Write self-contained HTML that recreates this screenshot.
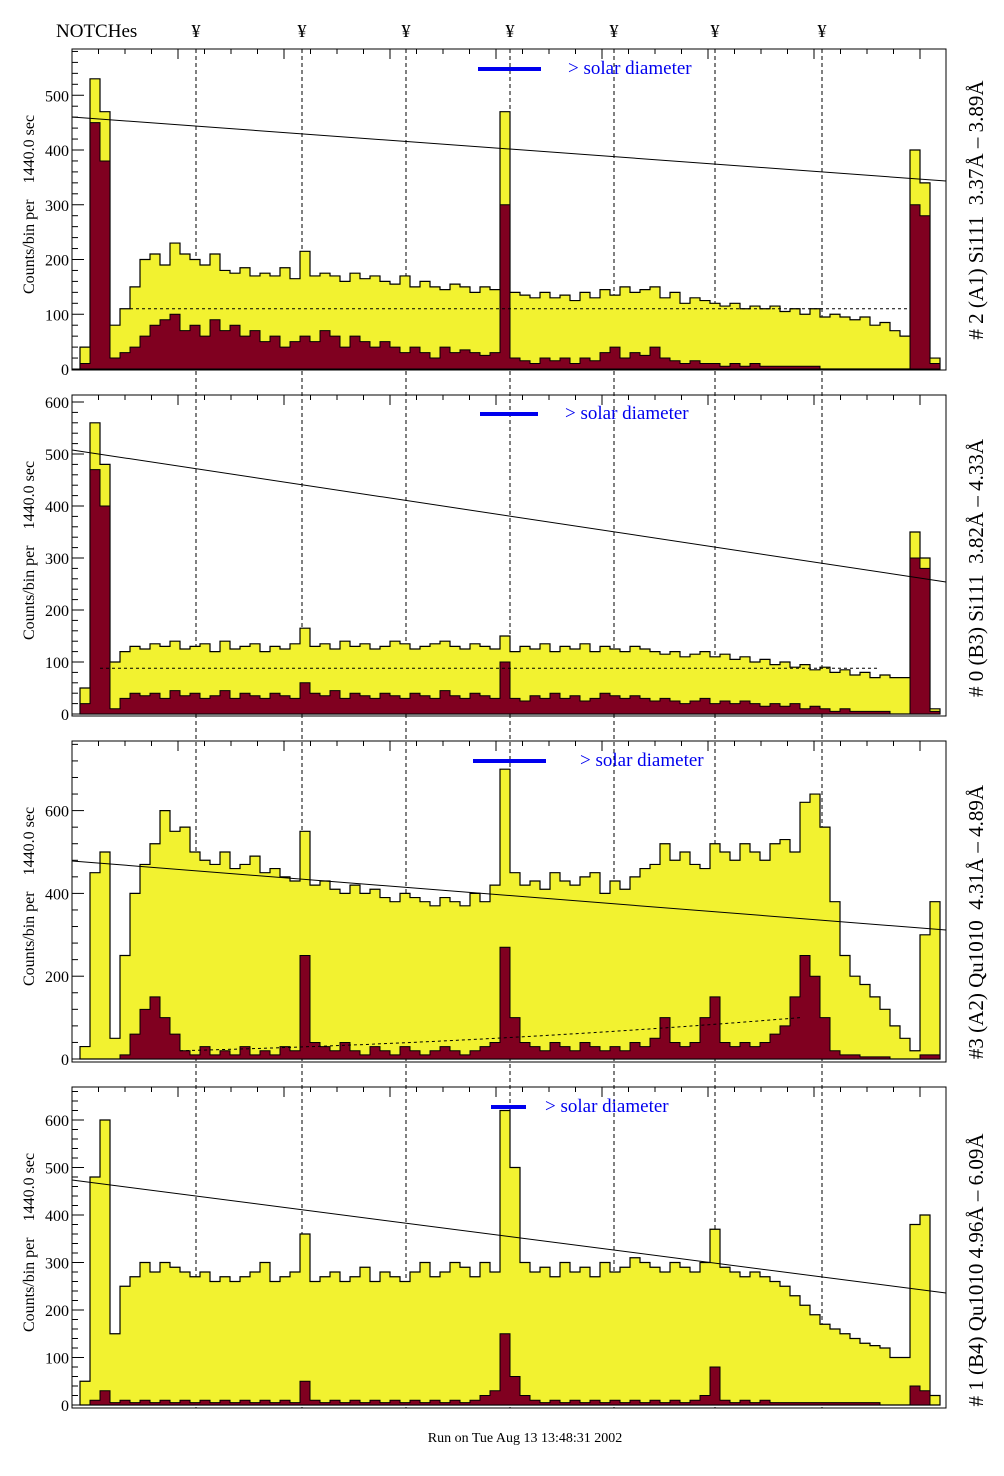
<!DOCTYPE html>
<html><head><meta charset="utf-8">
<style>
body{margin:0;background:#fff;}
svg{display:block;font-family:"Liberation Serif",serif;}
text{white-space:pre;}
</style></head>
<body>
<svg id="chart" width="1004" height="1476" viewBox="0 0 1004 1476" xmlns="http://www.w3.org/2000/svg"></svg>
<script>
const NS="http://www.w3.org/2000/svg";
// ---- data ----
const p1Yellow=[40,530,470,80,110,150,200,210,190,230,210,200,190,210,180,175,185,170,175,170,185,165,215,170,175,170,160,175,165,170,160,155,170,150,160,150,145,155,150,140,150,145,470,140,135,130,140,130,135,125,140,130,145,135,150,140,145,150,130,140,120,130,125,120,115,120,110,115,110,115,105,110,100,110,95,100,95,90,95,80,85,70,60,400,340,20];
const p1Red=[10,450,380,20,30,40,60,80,90,100,70,80,60,90,70,80,60,70,50,60,40,50,60,50,70,60,40,60,50,40,50,40,30,40,30,20,40,30,35,30,25,30,300,20,15,10,20,15,20,10,20,15,30,40,20,30,25,40,20,15,10,15,10,10,5,10,5,10,5,5,5,5,5,5,0,0,0,0,0,0,0,0,0,300,280,10];
const p2Yellow=[50,560,480,100,120,130,125,135,130,140,125,130,135,120,140,125,130,135,120,130,125,135,165,130,135,125,140,130,135,125,130,140,135,125,130,135,140,130,125,135,130,125,150,120,130,125,135,120,130,125,135,120,130,125,120,130,125,120,115,120,110,115,120,110,115,105,110,100,105,95,100,90,95,85,90,80,85,75,80,70,75,70,70,350,300,10];
const p2Red=[20,470,400,10,30,40,35,40,30,45,35,40,30,35,45,30,40,35,30,40,35,30,60,40,35,45,30,40,35,30,40,35,30,40,35,30,45,35,30,40,35,30,100,30,25,35,30,40,30,35,25,30,40,35,30,35,30,25,30,25,20,25,30,20,25,20,25,20,15,20,15,20,10,15,10,5,10,5,5,5,5,0,0,300,280,5];
const p3Yellow=[30,450,500,50,250,400,470,520,600,550,560,500,480,470,500,460,470,490,450,460,440,430,550,420,430,410,400,420,400,410,390,380,400,390,380,370,390,380,370,400,380,420,700,450,420,430,410,450,430,420,440,450,400,430,410,440,460,470,520,480,500,470,460,520,500,480,520,500,480,520,530,500,620,640,560,380,250,200,180,150,120,80,50,20,300,380];
const p3Red=[0,0,0,0,10,60,120,150,100,60,20,10,30,10,20,10,30,10,20,10,30,20,250,40,30,20,40,20,10,30,20,10,30,20,10,20,30,20,10,20,30,40,270,100,40,30,20,40,30,20,40,30,20,30,20,40,30,50,100,40,30,40,100,150,40,30,40,30,40,60,80,150,250,200,100,20,10,10,5,5,5,0,0,0,10,10];
const p4Yellow=[50,480,600,150,250,270,300,280,300,290,280,270,280,260,270,260,270,280,300,260,270,280,360,260,270,280,260,270,290,260,280,270,260,280,300,270,280,300,290,270,300,280,620,500,300,280,290,270,300,280,290,270,300,280,290,310,300,290,280,300,290,280,300,370,290,280,270,280,270,260,250,230,210,190,170,160,150,140,130,125,120,100,100,380,400,20];
const p4Red=[0,10,30,5,10,5,10,5,10,5,10,5,10,5,10,5,10,5,10,5,10,5,50,10,5,10,5,10,5,10,5,10,5,10,5,10,5,10,5,10,20,30,150,60,20,10,5,10,5,10,5,10,5,10,5,10,5,10,5,10,5,10,20,80,10,5,10,5,10,5,5,5,5,5,5,5,5,5,5,5,0,0,0,40,30,0];
const p1Ticks=[0,100,200,300,400,500];
const p2Ticks=[0,100,200,300,400,500,600];
const p3Ticks=[0,200,400,600];
const p4Ticks=[0,100,200,300,400,500,600];
const notchX=[196,302,406,510,614,715,822];

const panels=[
 {name:"panel-a1",top:49,bot:370,zero:369,scale:0.5475,yel:p1Yellow,red:p1Red,ticks:p1Ticks,minor:20,line:[117,181],dot:{y:110,x1:130,x2:910},curve:false,bar:[478,541,69],txt:568,label:"# 2 (A1) Si111  3.37Å – 3.89Å",lc:210},
 {name:"panel-b3",top:395,bot:716,zero:714,scale:0.52,yel:p2Yellow,red:p2Red,ticks:p2Ticks,minor:20,line:[450,582],dot:{y:88,x1:100,x2:880},curve:false,bar:[480,538,414],txt:565,label:"# 0 (B3) Si111  3.82Å – 4.33Å",lc:568},
 {name:"panel-a2",top:741,bot:1062,zero:1059,scale:0.414,yel:p3Yellow,red:p3Red,ticks:p3Ticks,minor:40,line:[861,930],dot:null,curve:true,bar:[473,546,761],txt:580,label:"#3 (A2) Qu1010  4.31Å – 4.89Å",lc:922},
 {name:"panel-b4",top:1087,bot:1408,zero:1405,scale:0.475,yel:p4Yellow,red:p4Red,ticks:p4Ticks,minor:20,line:[1180,1293],dot:null,curve:false,bar:[491,526,1107],txt:545,label:"# 1 (B4) Qu1010 4.96Å – 6.09Å",lc:1270}
];
const svg=document.getElementById('chart');
function mk(tag,attrs,parent){const e=document.createElementNS(NS,tag);for(const k in attrs)e.setAttribute(k,attrs[k]);(parent||svg).appendChild(e);return e;}
const L=72,R=946,HX0=80,HX1=940;

notchX.forEach((x,i)=>{
  const l=mk('line',{x1:x,y1:49,x2:x,y2:1408,stroke:'#000','stroke-width':1,'stroke-dasharray':'4,3'});
  
  
  const t=mk('text',{x:x,y:37,'font-size':18,'text-anchor':'middle'});t.textContent='¥';
  
  
});
const nt=mk('text',{x:56,y:37,'font-size':19});nt.textContent='NOTCHes';



function histPath(arr,p){
  const w=(HX1-HX0)/arr.length;
  const yv=v=>p.zero-v*p.scale;
  let d='M'+HX0+','+p.zero;
  arr.forEach((v,i)=>{const x0=HX0+i*w;d+=' L'+x0+','+yv(v)+' L'+(x0+w)+','+yv(v);});
  d+=' L'+HX1+','+p.zero+' Z';
  return d;
}
panels.forEach(p=>{
  const g=mk('g',{});
  
  
  const y=mk('path',{d:histPath(p.yel,p),fill:'#f2f230',stroke:'#000','stroke-width':1.2},g);
  
  
  const r=mk('path',{d:histPath(p.red,p),fill:'#800020',stroke:'#000','stroke-width':1},g);
  
  
  const tl=mk('line',{x1:L,y1:p.line[0],x2:R,y2:p.line[1],stroke:'#000','stroke-width':1},g);
  
  
  if(p.dot){const dl=mk('line',{x1:p.dot.x1,y1:p.zero-p.dot.y*p.scale,x2:p.dot.x2,y2:p.zero-p.dot.y*p.scale,stroke:'#000','stroke-width':1,'stroke-dasharray':'3,3'},g);
    
    }
  if(p.curve){const dp=mk('path',{d:`M180,${p.zero-20*p.scale} Q500,${p.zero-40*p.scale} 800,${p.zero-100*p.scale}`,fill:'none',stroke:'#000','stroke-width':1,'stroke-dasharray':'3,3'},g);
    
    }
  const fr=mk('rect',{x:L,y:p.top,width:R-L,height:p.bot-p.top,fill:'none',stroke:'#000','stroke-width':1},g);
  
  
  const maxV=(p.zero-p.top)/p.scale;
  for(let v=0;v<=maxV;v+=p.minor){const yy=p.zero-v*p.scale;
    mk('line',{x1:L,y1:yy,x2:L+(v%100===0?12:6),y2:yy,stroke:'#000','stroke-width':1},g);}
  p.ticks.forEach(v=>{const yy=p.zero-v*p.scale;
    const t=mk('text',{x:L-3,y:yy+6,'font-size':16,'text-anchor':'end'},g);t.textContent=v;
    
    });
  for(let x=L;x<=R;x+=26.5){mk('line',{x1:x,y1:p.top,x2:x,y2:p.top+(Math.round((x-L)/26.5)%4===0?10:5),stroke:'#000','stroke-width':1},g);}
  const yt=mk('text',{x:0,y:0,'font-size':16,'text-anchor':'middle',transform:`translate(34,${(p.top+p.bot)/2-5}) rotate(-90)`},g);
  yt.textContent='Counts/bin per    1440.0 sec';
  
  
  const b=mk('line',{x1:p.bar[0],y1:p.bar[2],x2:p.bar[1],y2:p.bar[2],stroke:'#0000ee','stroke-width':4},g);
  
  
  const st=mk('text',{x:p.txt,y:p.bar[2]+5,'font-size':19,fill:'#0000ee'},g);st.textContent='> solar diameter';
  
  
  const lb=mk('text',{x:0,y:0,'font-size':21,'text-anchor':'middle',transform:`translate(983,${p.lc}) rotate(-90)`},g);
  lb.textContent=p.label;
  
  
});
const run=mk('text',{x:525,y:1442,'font-size':14,'text-anchor':'middle'});
run.textContent='Run on Tue Aug 13 13:48:31 2002';


</script>
</body></html>
